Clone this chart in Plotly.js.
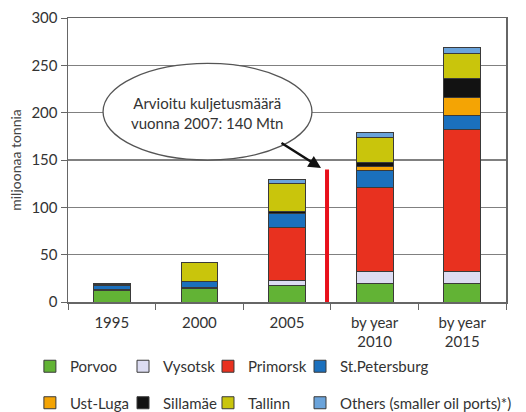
<!DOCTYPE html>
<html><head><meta charset="utf-8">
<script src="https://cdn.plot.ly/plotly-3.0.1.min.js"></script>
<style>html,body{margin:0;padding:0;background:#fff}#chart{width:526px;height:412px}</style>
</head><body><div id="chart"></div>
<script>
const categories = ['1995', '2000', '2005', 'by year<br>2010', 'by year<br>2015'];
const porvoo       = [12, 14, 17, 20, 20];
const vysotsk      = [1, 1, 6, 12, 12];
const primorsk     = [0, 0, 56, 89, 150];
const stPetersburg = [4, 7, 15, 18, 15];
const ustLuga      = [0, 0, 0, 4, 19];
const sillamae     = [0, 0, 2, 4, 20];
const tallinn      = [2, 20, 29, 27, 26];
const others       = [1, 0, 4, 5, 7];
const estimate2007 = 140;
const yTicks = [0, 50, 100, 150, 200, 250, 300];

const FONT = 'Lato, "DejaVu Sans", sans-serif';
const series = [
  {name: 'Porvoo', y: porvoo, color: '#62b335', legend: 'legend'},
  {name: 'Vysotsk', y: vysotsk, color: '#dcdcf2', legend: 'legend2'},
  {name: 'Primorsk', y: primorsk, color: '#e8311f', legend: 'legend3'},
  {name: 'St.Petersburg', y: stPetersburg, color: '#1b70bd', legend: 'legend4'},
  {name: 'Ust-Luga', y: ustLuga, color: '#f4a404', legend: 'legend'},
  {name: 'Sillamäe', y: sillamae, color: '#121212', legend: 'legend2'},
  {name: 'Tallinn', y: tallinn, color: '#c9c50c', legend: 'legend3'},
  {name: 'Others (smaller oil ports)*)', y: others, color: '#6aa3da', legend: 'legend4'}
];
const traces = series.map((s, i) => ({
  type: 'bar', x: categories, y: s.y, name: s.name, legend: s.legend, legendgroup: 'g' + i,
  marker: {color: s.color, line: {color: '#3a3a3a', width: 1}},
  width: 0.42, hoverinfo: 'skip'
}));

function leg(x) {
  return {orientation: 'v', x: x, xanchor: 'left', y: -0.169, yanchor: 'top',
    xref: 'paper', yref: 'paper', bgcolor: 'rgba(0,0,0,0)',
    font: {size: 15, color: '#333'}, traceorder: 'grouped', tracegroupgap: 14};
}

const layout = {
  width: 526, height: 412,
  margin: {l: 68, r: 20, t: 18, b: 110, autoexpand: false},
  barmode: 'stack',
  paper_bgcolor: '#fff', plot_bgcolor: '#fff',
  font: {family: FONT, size: 15, color: '#333'},
  showlegend: true,
  xaxis: {
    type: 'category', tickson: 'boundaries', ticks: 'outside', ticklen: 6,
    tickcolor: '#666', showline: true, linecolor: '#666', linewidth: 1.5,
    mirror: true, showgrid: false, ticklabelstandoff: 6,
    tickfont: {size: 15, color: '#333'}
  },
  yaxis: {
    range: [0, 300], tickvals: yTicks, ticks: 'outside', ticklen: 6,
    tickcolor: '#666', showline: true, linecolor: '#666', linewidth: 1.5,
    mirror: true, gridcolor: '#808080', gridwidth: 1.5, zeroline: false,
    tickfont: {size: 15, color: '#333'},
    title: {text: 'miljoonaa tonnia', font: {size: 14, color: '#444'}, standoff: 6}
  },
  legend: leg(-0.087),
  legend2: leg(0.1256),
  legend3: leg(0.3196),
  legend4: leg(0.5297),
  shapes: [
    {type: 'line', xref: 'x', yref: 'y', x0: 2.457, x1: 2.457, y0: 0, y1: estimate2007,
     line: {color: '#e8101a', width: 4}, layer: 'above'},
    {type: 'circle', xref: 'x', yref: 'y', x0: -0.10, x1: 2.285, y0: 150, y1: 252,
     fillcolor: '#fff', line: {color: '#555', width: 1.3}, layer: 'above'}
  ],
  annotations: [
    {x: 2.388, y: estimate2007 + 1.5, xref: 'x', yref: 'y', ax: -41, ay: -26,
     showarrow: true, arrowhead: 2, arrowsize: 1, arrowwidth: 2.5, arrowcolor: '#111', text: ''},
    {x: 1.09, y: 200, xref: 'x', yref: 'y', showarrow: false,
     text: 'Arvioitu kuljetusmäärä<br>vuonna 2007: ' + estimate2007 + ' Mtn',
     font: {size: 15, color: '#333'}, align: 'center'}
  ],
  hovermode: false
};
Plotly.newPlot('chart', traces, layout, {displayModeBar: false, staticPlot: true});
</script></body></html>
